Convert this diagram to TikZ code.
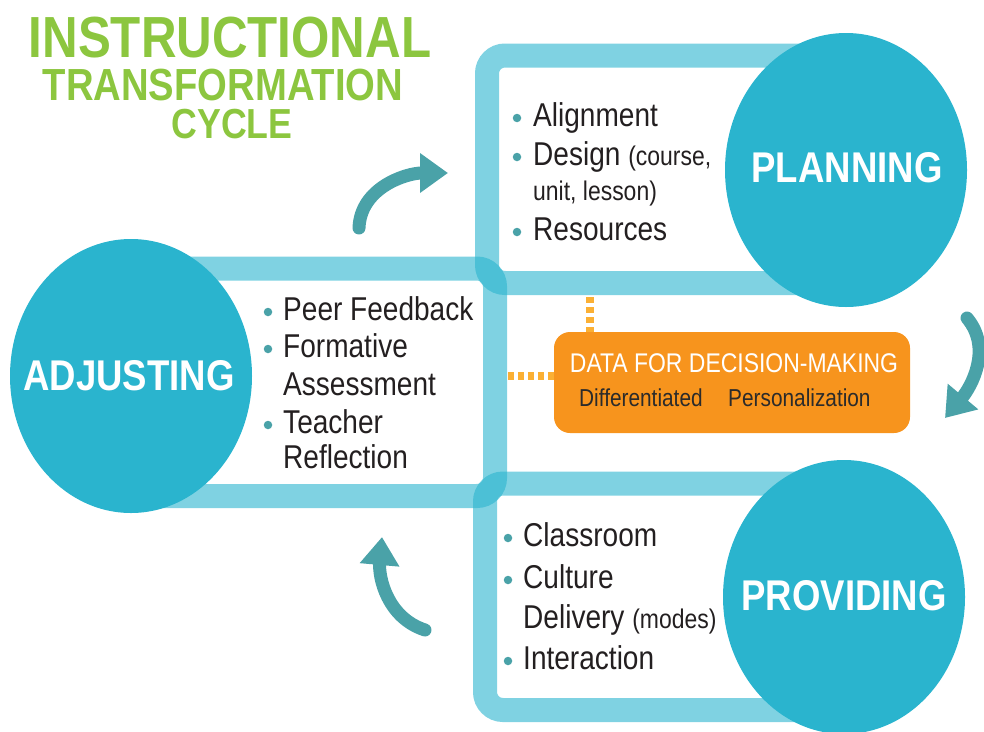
\documentclass[tikz,border=0pt]{standalone}
\usepackage{fontspec}
\setmainfont{Liberation Sans}
\newfontfamily\cf[FakeStretch=0.85]{Liberation Sans}
\usetikzlibrary{shapes.geometric,arrows.meta}
\definecolor{circ}{HTML}{2AB4CE}
\definecolor{arrowc}{HTML}{4AA2A8}
\definecolor{ttlgreen}{HTML}{8CC63F}
\definecolor{ink}{HTML}{231F20}
\definecolor{datao}{HTML}{F7941D}
\definecolor{dotor}{HTML}{FBB034}
\definecolor{subink}{HTML}{2B2B2B}
\begin{document}
\begin{tikzpicture}[x=1pt,y=1pt,
  band/.style={draw=circ, draw opacity=0.6, line width=24pt, rounded corners=18pt},
  bigcirc/.style={ellipse, fill=circ, inner sep=0pt, minimum width=242pt, minimum height=274pt},
  bigtxt/.style={inner sep=0pt, text=white, font=\cf\bfseries\fontsize{43}{50}\selectfont},
  txt/.style={anchor=base west, inner sep=0pt, text=ink, font=\cf\fontsize{33}{40}\selectfont},
  smtxt/.style={anchor=base west, inner sep=0pt, text=ink, font=\cf\fontsize{27}{30}\selectfont},
  bul/.style={circle, fill=arrowc, minimum size=8.5pt, inner sep=0pt},
  carrow/.style={draw=arrowc, line width=13pt, line cap=round, -{Triangle[length=28pt,width=38pt]}},
  dots/.style={draw=dotor, line width=8pt, dash pattern=on 6pt off 4pt},
  ttl/.style={anchor=base, inner sep=0pt, text=ttlgreen}
]
\useasboundingbox (0,0) rectangle (984,-731);

% title
\node[ttl, font=\cf\bfseries\fontsize{58}{60}\selectfont] (t1) at (230,-57) {INSTRUCTIONAL};
\node[ttl, font=\cf\bfseries\fontsize{45}{45}\selectfont] (t2) at (223,-100) {TRANSFORMATION};
\node[ttl, font=\cf\bfseries\fontsize{42}{45}\selectfont] (t3) at (232,-138) {CYCLE};

% bands
\draw[band] (487,-55.5) rectangle (850,-283);
\draw[band] (120,-268.5) rectangle (495,-496);
\draw[band] (485,-483.5) rectangle (850,-710);

% circles
\node[bigcirc] (plan) at (846,-170) {};
\node[bigtxt] (plant) at (847,-168) {PLANNING};
\node[bigcirc] (adj) at (131,-376) {};
\node[bigtxt] (adjt) at (129,-376) {ADJUSTING};
\node[bigcirc] (prov) at (844,-597) {};
\node[bigtxt] (provt) at (844,-596) {PROVIDING};

% planning list
\node[bul] (pb1) at (517,-118) {};
\node[txt] (pl1) at (533,-126) {Alignment};
\node[bul] (pb2) at (517,-157) {};
\node[txt] (pl2) at (533,-165) {Design {\fontsize{27}{30}\selectfont(course,}};
\node[smtxt] (pl3) at (533,-200) {unit, lesson)};
\node[bul] (pb4) at (517,-232) {};
\node[txt] (pl4) at (533,-240) {Resources};

% adjusting list
\node[bul] (ab1) at (268,-312) {};
\node[txt] (al1) at (283,-320) {Peer Feedback};
\node[bul] (ab2) at (268,-349) {};
\node[txt] (al2) at (283,-357) {Formative};
\node[txt] (al3) at (283,-395) {Assessment};
\node[bul] (ab4) at (268,-425) {};
\node[txt] (al4) at (283,-433) {Teacher};
\node[txt] (al5) at (283,-468) {Reflection};

% providing list
\node[bul] (vb1) at (508,-538) {};
\node[txt] (vl1) at (523,-546) {Classroom};
\node[bul] (vb2) at (508,-580) {};
\node[txt] (vl2) at (523,-588) {Culture};
\node[txt] (vl3) at (523,-628) {Delivery {\fontsize{27}{30}\selectfont(modes)}};
\node[bul] (vb4) at (508,-661) {};
\node[txt] (vl4) at (523,-669) {Interaction};

% data box
\node[fill=datao, rounded corners=16pt, minimum width=356pt, minimum height=101pt, inner sep=0pt] (data) at (732,-382.5) {};
\node[anchor=base, inner sep=0pt, text=white, font=\cf\fontsize{27}{30}\selectfont] (dt) at (734,-372) {DATA FOR DECISION-MAKING};
\node[anchor=base west, inner sep=0pt, text=subink, font=\cf\fontsize{24.5}{28}\selectfont] (d1) at (579,-406) {Differentiated};
\node[anchor=base west, inner sep=0pt, text=subink, font=\cf\fontsize{24.5}{28}\selectfont] (d2) at (728,-406) {Personalization};

% dotted connectors
\coordinate (pbot) at (590,-297);
\coordinate (aright) at (508,-376);
\draw[dots] (pbot) -- (pbot |- data.north);
\draw[dots] (aright) -- (aright -| data.west);

% cycle arrows
\coordinate (a1s) at (359,-228);
\coordinate (a1e) at (448,-173);
\draw[carrow] (a1s) to[out=88,in=180] (a1e);
\coordinate (a2s) at (967,-318);
\coordinate (a2e) at (945,-418);
\draw[carrow] (a2s) to[out=-50,in=50] (a2e);
\coordinate (a3s) at (425,-630);
\coordinate (a3e) at (382,-537);
\draw[carrow] (a3s) to[out=162,in=-95] (a3e);
\end{tikzpicture}
\end{document}
